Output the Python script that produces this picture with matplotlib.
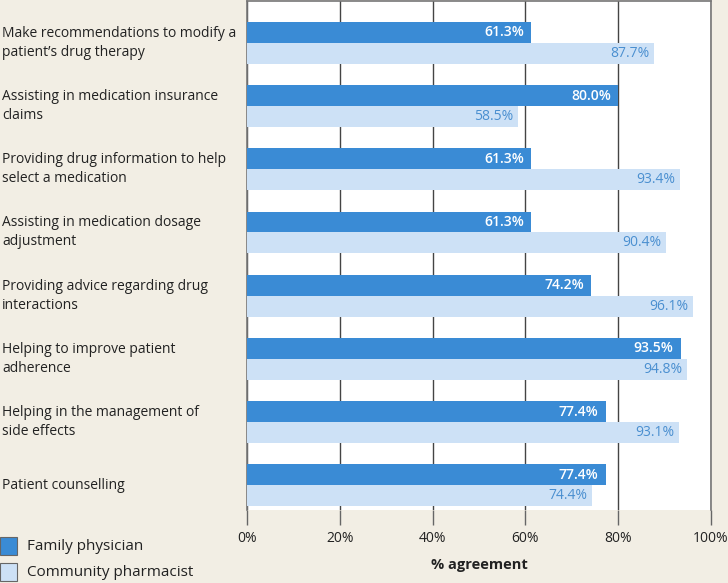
import numpy as np
import matplotlib.pyplot as plt
from matplotlib.patches import Rectangle

categories = [
    "Make recommendations to modify a\npatient\u2019s drug therapy",
    "Assisting in medication insurance\nclaims",
    "Providing drug information to help\nselect a medication",
    "Assisting in medication dosage\nadjustment",
    "Providing advice regarding drug\ninteractions",
    "Helping to improve patient\nadherence",
    "Helping in the management of\nside effects",
    "Patient counselling",
]
physician = [61.3, 80.0, 61.3, 61.3, 74.2, 93.5, 77.4, 77.4]
pharmacist = [87.7, 58.5, 93.4, 90.4, 96.1, 94.8, 93.1, 74.4]
xticks = [0, 20, 40, 60, 80, 100]

dark = "#3a8bd5"
light = "#cde1f6"
bg = "#f2eee4"
plt.rcParams['font.family'] = ['Open Sans', 'DejaVu Sans']

fig = plt.figure(figsize=(7.28, 5.83), dpi=100, facecolor=bg)
ax = fig.add_axes([247 / 728, 1 - 510 / 583, 464 / 728, 509 / 583])
ax.set_facecolor("white")

y = np.arange(len(categories))
h = 0.33
ax.barh(y - h / 2, physician, height=h, color=dark, zorder=3)
ax.barh(y + h / 2, pharmacist, height=h, color=light, zorder=3)

# value labels at the bar ends
for i, (p, c) in enumerate(zip(physician, pharmacist)):
    ax.text(p - 1.6, i - h / 2, f"{p:.1f}%", ha="right", va="center",
            color="white", fontsize=10, fontweight="semibold", zorder=4)
    ax.text(c - 1.0, i + h / 2, f"{c:.1f}%", ha="right", va="center",
            color="#4a8fd0", fontsize=10, zorder=4)

ax.set_xlim(0, 100)
ax.set_ylim(7.39, -0.66)
ax.set_xticks(xticks)
ax.set_xticklabels([f"{t}%" for t in xticks], fontsize=10, color="#222222")
ax.tick_params(axis="x", length=11, width=1, color="#666666", pad=4)
ax.set_yticks([])
ax.grid(axis="x", color="#444444", linewidth=1, zorder=1)
ax.set_axisbelow(True)
for s in ["left", "top", "right"]:
    ax.spines[s].set_color("#777777")
    ax.spines[s].set_linewidth(1.2)
ax.spines["bottom"].set_visible(False)
ax.set_xlabel("% agreement", fontsize=10.5, fontweight="bold",
              color="#222222", labelpad=9)

# category labels, left aligned at the figure edge
for i, cat in enumerate(categories):
    ax.annotate(cat, xy=(0, i), xycoords=("figure fraction", "data"),
                xytext=(2, 0), textcoords="offset pixels",
                ha="left", va="center", fontsize=10, color="#222222",
                linespacing=1.35, annotation_clip=False)

# legend
for k, (col, lab) in enumerate([(dark, "Family physician"), (light, "Community pharmacist")]):
    yb = 1 - (555 + k * 26) / 583
    fig.patches.append(Rectangle((0, yb), 17 / 728, 18 / 583, transform=fig.transFigure,
                                 facecolor=col, edgecolor="#666666", linewidth=0.8))
    fig.text(27 / 728, yb + 8 / 583, lab, ha="left", va="center",
             fontsize=11, color="#222222")

fig.savefig("out.png", dpi=100, facecolor=bg)
